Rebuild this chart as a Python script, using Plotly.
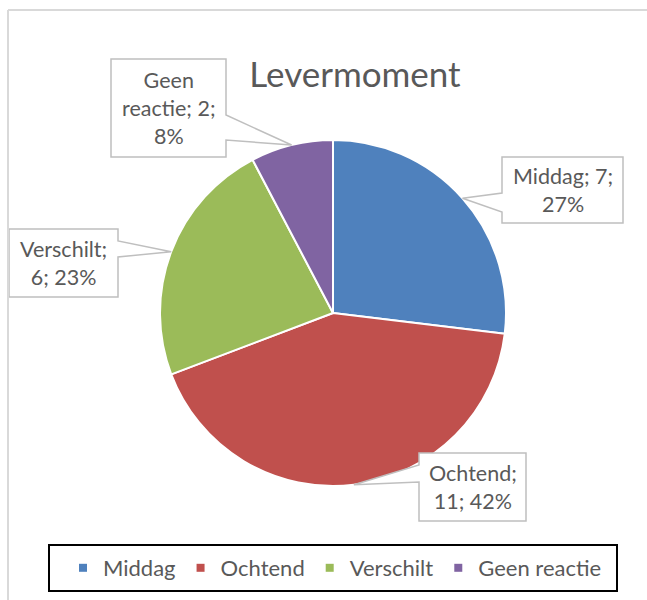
import math
import plotly.graph_objects as go

# data
categories = ["Middag", "Ochtend", "Verschilt", "Geen reactie"]
values = [7, 11, 6, 2]
colors = ["#4F81BD", "#C0504D", "#9BBB59", "#8064A2"]
# how each data label wraps (Excel style "name; value; pct")
label_templates = [
    "{n}; {v};<br>{p}%",
    "{n};<br>{v}; {p}%",
    "{n};<br>{v}; {p}%",
    "Geen<br>reactie; {v};<br>{p}%",
]

W, H = 647, 600
# pie placement in pixels
cx, cy, r = 333, 313, 173

# callout boxes (x0, x1, y0, y1), side of the pointer, pointer span on that side
boxes = [
    (502, 623, 157, 223, "left", 193, 212),
    (419, 526, 453, 521, "left", 465, 482),
    (9, 118, 229, 297, "right", 241, 257),
    (111, 226, 59, 157, "right", 115, 140),
]

total = sum(values)

fig = go.Figure()
fig.add_trace(go.Pie(
    labels=categories, values=values, sort=False, direction="clockwise",
    rotation=0, textinfo="none", hoverinfo="label+value+percent", showlegend=False,
    marker=dict(colors=colors, line=dict(color="white", width=2)),
    domain=dict(x=[(cx - r) / W, (cx + r) / W], y=[1 - (cy + r) / H, 1 - (cy - r) / H]),
))

# legend entries with small square keys like Excel
for name, c in zip(categories, colors):
    fig.add_trace(go.Scatter(x=[None], y=[None], mode="markers", name=name,
                             marker=dict(symbol="square", size=8, color=c, line=dict(width=0))))

shapes = []
annotations = []
cum = 0
for name, v, tmpl, box in zip(categories, values, label_templates, boxes):
    mid = (cum + v / 2) / total * 2 * math.pi
    cum += v
    tx = cx + r * math.sin(mid)
    ty = cy - r * math.cos(mid)
    x0, x1, y0, y1, side, n1, n2 = box
    if side == "left":
        path = f"M {x0},{y0} H {x1} V {y1} H {x0} V {n2} L {tx:.1f},{ty:.1f} L {x0},{n1} Z"
    else:
        path = f"M {x0},{y0} H {x1} V {n1} L {tx:.1f},{ty:.1f} L {x1},{n2} V {y1} H {x0} Z"
    shapes.append(dict(type="path", path=path, xref="x", yref="y",
                       fillcolor="white", line=dict(color="#BFBFBF", width=1.5), layer="above"))
    pct = round(v / total * 100)
    annotations.append(dict(x=(x0 + x1) / 2, y=(y0 + y1) / 2, xref="x", yref="y",
                            text=tmpl.format(n=name, v=v, p=pct), showarrow=False,
                            font=dict(family="Lato", size=21.5, color="#595959"),
                            align="center"))

# outer chart frame (top and left edges visible)
shapes.append(dict(type="line", x0=8, x1=W, y0=10, y1=10, xref="x", yref="y",
                   line=dict(color="#D9D9D9", width=2)))
shapes.append(dict(type="line", x0=8, x1=8, y0=10, y1=H, xref="x", yref="y",
                   line=dict(color="#D9D9D9", width=2)))
# legend frame
shapes.append(dict(type="rect", x0=49, x1=617, y0=545, y1=591, xref="x", yref="y",
                   line=dict(color="black", width=2), fillcolor="white", layer="below"))

fig.update_layout(
    width=W, height=H,
    margin=dict(l=0, r=0, t=0, b=0),
    paper_bgcolor="white", plot_bgcolor="rgba(0,0,0,0)",
    xaxis=dict(range=[0, W], visible=False, domain=[0, 1], fixedrange=True),
    yaxis=dict(range=[H, 0], visible=False, domain=[0, 1], fixedrange=True),
    title=dict(text="Levermoment", x=355 / W, y=1 - 75 / H, xanchor="center", yanchor="middle",
               font=dict(family="Lato", size=35, color="#595959")),
    legend=dict(orientation="h", x=63 / W, y=1 - 568 / H, xanchor="left", yanchor="middle",
                borderwidth=0, bgcolor="rgba(0,0,0,0)", itemclick=False, itemdoubleclick=False,
                font=dict(family="Lato", size=22, color="#595959")),
    shapes=shapes, annotations=annotations,
)

fig.write_html("out.html", config={"displayModeBar": False},
               post_script="document.body.style.margin='0';")
